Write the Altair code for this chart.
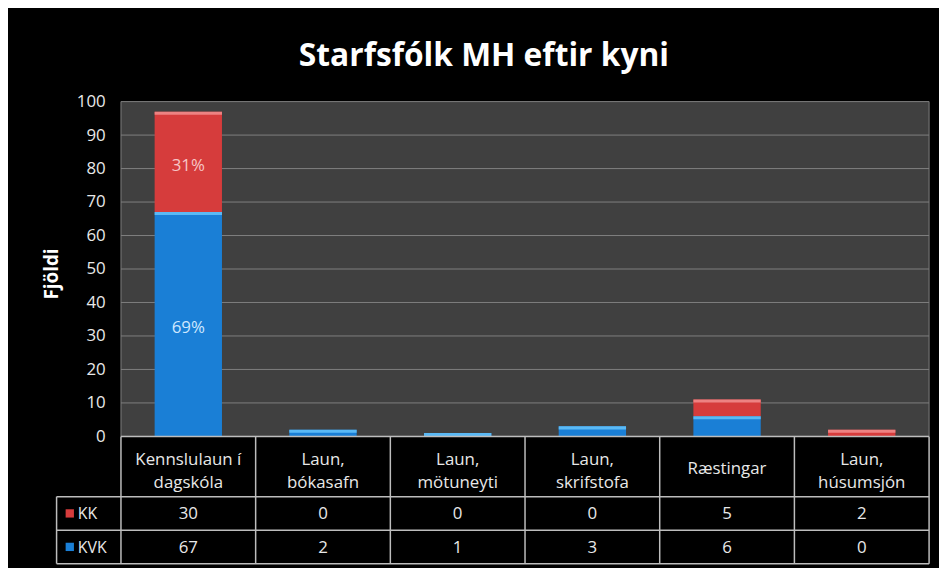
import altair as alt
import pandas as pd

# ---- data ----
categories = ["Kennslulaun í\ndagskóla", "Laun,\nbókasafn", "Laun,\nmötuneyti",
              "Laun,\nskrifstofa", "Ræstingar", "Laun,\nhúsumsjón"]
series = ["KK", "KVK"]
kk_values = [30, 0, 0, 0, 5, 2]
kvk_values = [67, 2, 1, 3, 6, 0]
y_ticks = [0, 10, 20, 30, 40, 50, 60, 70, 80, 90, 100]
title_text = "Starfsfólk MH eftir kyni"
y_title = "Fjöldi"

# ---- styling constants ----
FONT = "Open Sans"
BG = "#000000"
PLOT_BG = "#404040"
GRID = "#808080"
TABLE_LINE = "#bdbdbd"
TEXT = "#e8e8e8"
COLORS = {"KK": "#d63c3c", "KVK": "#1a7fd6"}
HILITE = {"KK": "#f08a8a", "KVK": "#62c0f8"}
PCT_COLORS = {"KK": "#f6c6c6", "KVK": "#cfe8ff"}

LABEL_COL = -0.478          # left edge of the series-label column (category units)
ROW_HEADER = (-18, 0)       # header row extent in y units
ROW_Y = {"KK": (-28, -18), "KVK": (-38, -28)}
Y_MIN, Y_MAX = -38, 100
N = len(categories)
SQ_X, TXT_X = -0.38, -0.32
YTITLE_X, YTITLE_Y = -0.51, 48.5

xscale = alt.Scale(domain=[LABEL_COL, N], nice=False, zero=False)
yscale = alt.Scale(domain=[Y_MIN, Y_MAX], nice=False, zero=False)
yaxis = alt.Axis(values=y_ticks, grid=False, domain=False, ticks=False,
                 offset=-65, labelPadding=16, labelFontSize=17, labelColor=TEXT,
                 labelFont=FONT, title=None)


def X(field):
    return alt.X(field, scale=xscale, axis=None)


def Y(field):
    return alt.Y(field, scale=yscale, axis=yaxis)


def by_series(mapping):
    return alt.condition("datum.series == 'KK'", alt.value(mapping["KK"]),
                         alt.value(mapping["KVK"]))


# long table of values
rows = []
for i, c in enumerate(categories):
    rows.append({"idx": i, "category": c, "series": "KVK", "order": 0, "value": kvk_values[i]})
    rows.append({"idx": i, "category": c, "series": "KK", "order": 1, "value": kk_values[i]})
df = pd.DataFrame(rows)

# plot background
bg = alt.Chart(pd.DataFrame({"x0": [0], "x1": [N], "y0": [0], "y1": [Y_MAX]})).mark_rect(
    fill=PLOT_BG, stroke=GRID, strokeWidth=1
).encode(x=X("x0:Q"), x2="x1:Q", y=Y("y0:Q"), y2="y1:Q")

grid_df = pd.DataFrame({"v": y_ticks[1:-1], "x0": 0, "x1": N})
grid = alt.Chart(grid_df).mark_rule(color=GRID, strokeWidth=1).encode(
    y=Y("v:Q"), x=X("x0:Q"), x2="x1:Q",
)

ytitle = alt.Chart(pd.DataFrame({"t": [y_title], "x": [YTITLE_X], "y": [YTITLE_Y]})).mark_text(
    font=FONT, fontSize=19, fontWeight="bold", color="#ffffff", angle=270, baseline="middle"
).encode(x=X("x:Q"), y=Y("y:Q"), text="t:N")

stacked = alt.Chart(df).transform_stack(
    stack="value", groupby=["idx"], as_=["y0", "y1"], sort=[alt.SortField("order")]
).transform_calculate(xs="datum.idx + 0.25", xe="datum.idx + 0.75")

bars = stacked.mark_rect().encode(
    x=X("xs:Q"), x2="xe:Q", y=Y("y0:Q"), y2="y1:Q",
    color=by_series(COLORS),
)

hilite = stacked.transform_filter("datum.value > 0").transform_calculate(
    yh="datum.y1 - 0.9"
).mark_rect(opacity=0.9).encode(
    x=X("xs:Q"), x2="xe:Q", y=Y("yh:Q"), y2="y1:Q",
    color=by_series(HILITE),
)

pct = stacked.transform_joinaggregate(total="sum(value)", groupby=["idx"]).transform_filter(
    "datum.idx == 0"
).transform_calculate(
    label="round(100 * datum.value / datum.total) + '%'",
    ym="(datum.y0 + datum.y1) / 2", xm="datum.idx + 0.5",
).mark_text(font=FONT, fontSize=17, baseline="middle", dy=4).encode(
    x=X("xm:Q"), y=Y("ym:Q"), text="label:N",
    color=by_series(PCT_COLORS),
)

# ---- data table ----
cat_df = pd.DataFrame({"idx": list(range(N)), "category": categories})
header = alt.Chart(cat_df).transform_calculate(
    xm="datum.idx + 0.5",
    ym=f"{sum(ROW_HEADER) / 2 - 0.6} + (length(split(datum.category, '\\n')) - 1) * 2.65",
).mark_text(
    font=FONT, fontSize=17, color=TEXT, lineBreak="\n", baseline="middle", lineHeight=24
).encode(x=X("xm:Q"), y=Y("ym:Q"), text="category:N")

vals = df.assign(ym=df["series"].map(lambda s: sum(ROW_Y[s]) / 2))
values_text = alt.Chart(vals).transform_calculate(xm="datum.idx + 0.5").mark_text(
    font=FONT, fontSize=17, color=TEXT, baseline="middle", dy=1
).encode(x=X("xm:Q"), y=Y("ym:Q"), text="value:Q")

leg_df = pd.DataFrame({"series": series, "ym": [sum(ROW_Y[s]) / 2 for s in series],
                       "xs": SQ_X, "xt": TXT_X})
leg_sq = alt.Chart(leg_df).mark_square(size=70, opacity=1).encode(
    x=X("xs:Q"), y=Y("ym:Q"), color=by_series(COLORS),
)
leg_txt = alt.Chart(leg_df).mark_text(font=FONT, fontSize=16, color=TEXT, align="left",
                                       baseline="middle", dy=1).encode(
    x=X("xt:Q"), y=Y("ym:Q"), text="series:N",
)

# table lines
lines = []
for b in range(N + 1):
    lines.append({"x0": b, "x1": b, "y0": Y_MIN, "y1": 0})
lines.append({"x0": LABEL_COL, "x1": LABEL_COL, "y0": Y_MIN, "y1": ROW_HEADER[0]})
for yv in [ROW_HEADER[0], ROW_Y["KK"][0], ROW_Y["KVK"][0]]:
    lines.append({"x0": LABEL_COL, "x1": N, "y0": yv, "y1": yv})
lines.append({"x0": 0, "x1": N, "y0": 0, "y1": 0})
table_lines = alt.Chart(pd.DataFrame(lines)).mark_rule(color=TABLE_LINE, strokeWidth=1.5).encode(
    x=X("x0:Q"), x2="x1:Q", y=Y("y0:Q"), y2="y1:Q",
)

chart = alt.layer(
    bg, grid, bars, hilite, pct, table_lines, header, values_text, leg_sq, leg_txt, ytitle
).properties(
    width=880, height=466,
    background=BG,
    padding={"left": 49, "top": 92, "right": 10, "bottom": 2},
    autosize=alt.AutoSizeParams(type="none"),
    title=alt.TitleParams(title_text, font=FONT, fontSize=32, fontWeight="bold",
                          color="#ffffff", anchor="middle", dx=-9, offset=20),
).configure_view(stroke=None)

chart.save("out.html", embed_options={"renderer": "svg", "actions": False})
